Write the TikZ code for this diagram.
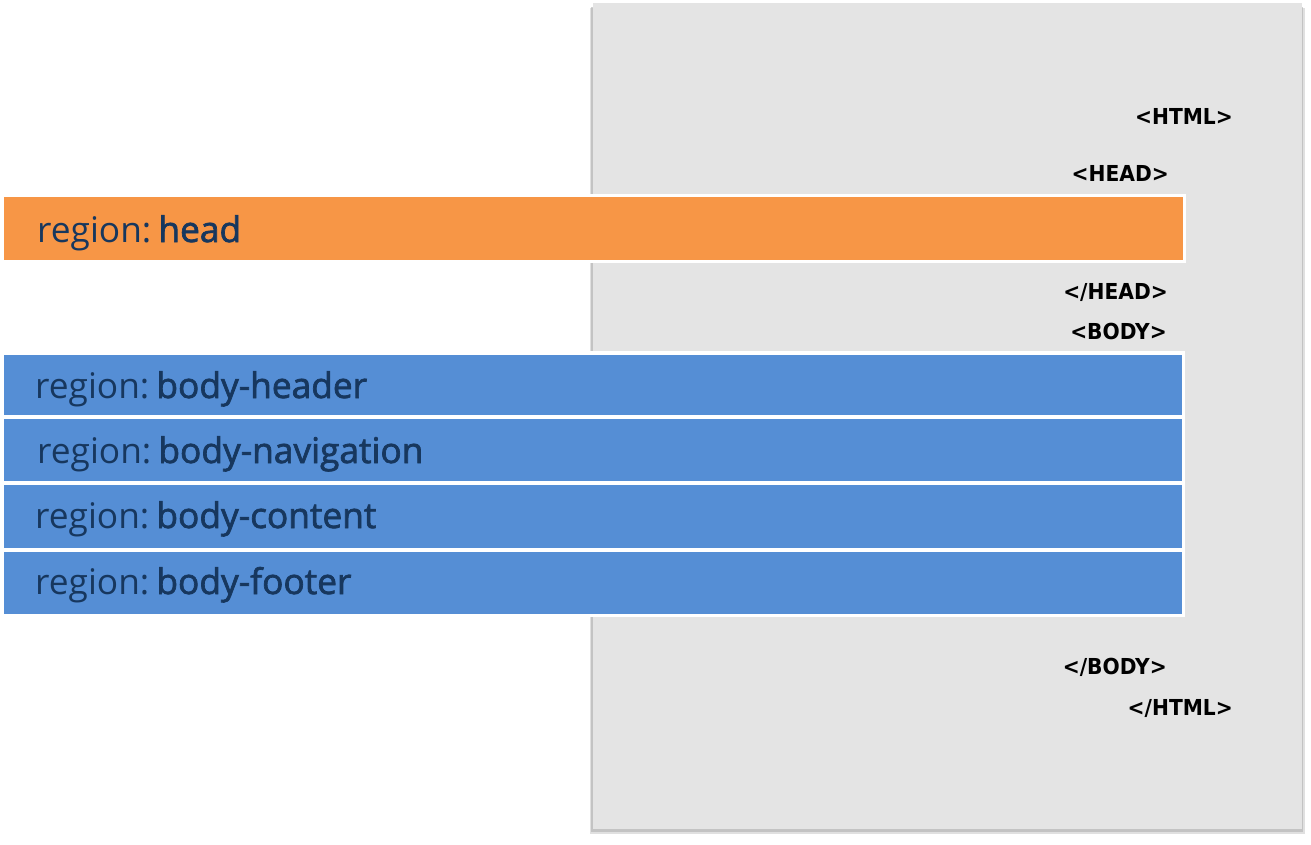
\documentclass[tikz,border=0pt]{standalone}
\usepackage{fontspec}
\setmainfont{Open Sans}
\newfontfamily\regfont{Open Sans}
\newfontfamily\medfont[FakeBold=2]{Open Sans}
\newfontfamily\tagfont[FakeStretch=0.92]{DejaVu Sans}
\definecolor{panelgray}{HTML}{E4E4E4}
\definecolor{shadowgray}{HTML}{A6A6A6}
\definecolor{headorange}{HTML}{F79646}
\definecolor{bodyblue}{HTML}{558ED5}
\definecolor{labelnavy}{HTML}{17375E}
\newcommand{\rgn}[1]{region:\hspace{0.2em}{\medfont #1}}
\tikzset{
  barbox/.style={fill=#1, draw=none, inner sep=0pt, outer sep=0pt, anchor=north west},
  whitebox/.style={fill=white, draw=none, inner sep=0pt, outer sep=0pt, anchor=north west},
  regionlabel/.style={anchor=base west, inner sep=0pt, text=labelnavy, font=\regfont\fontsize{35.3}{35.3}\selectfont},
  taglabel/.style={anchor=base east, inner sep=0pt, text=black, font=\tagfont\bfseries\fontsize{22}{22}\selectfont},
}
\begin{document}
\begin{tikzpicture}[x=1pt, y=-1pt]
\useasboundingbox (0,0) rectangle (1311,845);
% shadow of panel
\fill[shadowgray, opacity=0.35] (590,8) rectangle (1305,834);
\fill[shadowgray, opacity=0.5] (591,7) rectangle (1303,832);
% panel
\node[barbox=panelgray, minimum width=709pt, minimum height=826pt] (panel) at (593,3) {};
% white backings
\node[whitebox, minimum width=1185pt, minimum height=69pt] (headback) at (1,194) {};
\node[whitebox, minimum width=1184pt, minimum height=266pt] (bodyback) at (1,351) {};
% bars
\node[barbox=headorange, minimum width=1179pt, minimum height=63pt] (head) at (4,197) {};
\node[barbox=bodyblue, minimum width=1178pt, minimum height=60pt] (bheader) at (4,355) {};
\node[barbox=bodyblue, minimum width=1178pt, minimum height=62pt] (bnav) at (4,419) {};
\node[barbox=bodyblue, minimum width=1178pt, minimum height=63pt] (bcontent) at (4,485) {};
\node[barbox=bodyblue, minimum width=1178pt, minimum height=62pt] (bfooter) at (4,552) {};
% labels
\node[regionlabel] (lhead) at (37,242) {\rgn{head}};
\node[regionlabel] (lheader) at (35,398) {\rgn{body-header}};
\node[regionlabel] (lnav) at (37,463) {\rgn{body-navigation}};
\node[regionlabel] (lcontent) at (35,528) {\rgn{body-content}};
\node[regionlabel] (lfooter) at (35,594) {\rgn{body-footer}};
% tags
\node[taglabel] (thtml) at (1233,125) {<HTML>};
\node[taglabel] (thead) at (1169,182) {<HEAD>};
\node[taglabel] (tehead) at (1168,299) {</HEAD>};
\node[taglabel] (tbody) at (1167,339) {<BODY>};
\node[taglabel] (tebody) at (1167,674) {</BODY>};
\node[taglabel] (tehtml) at (1233,715) {</HTML>};
\end{tikzpicture}
\end{document}
